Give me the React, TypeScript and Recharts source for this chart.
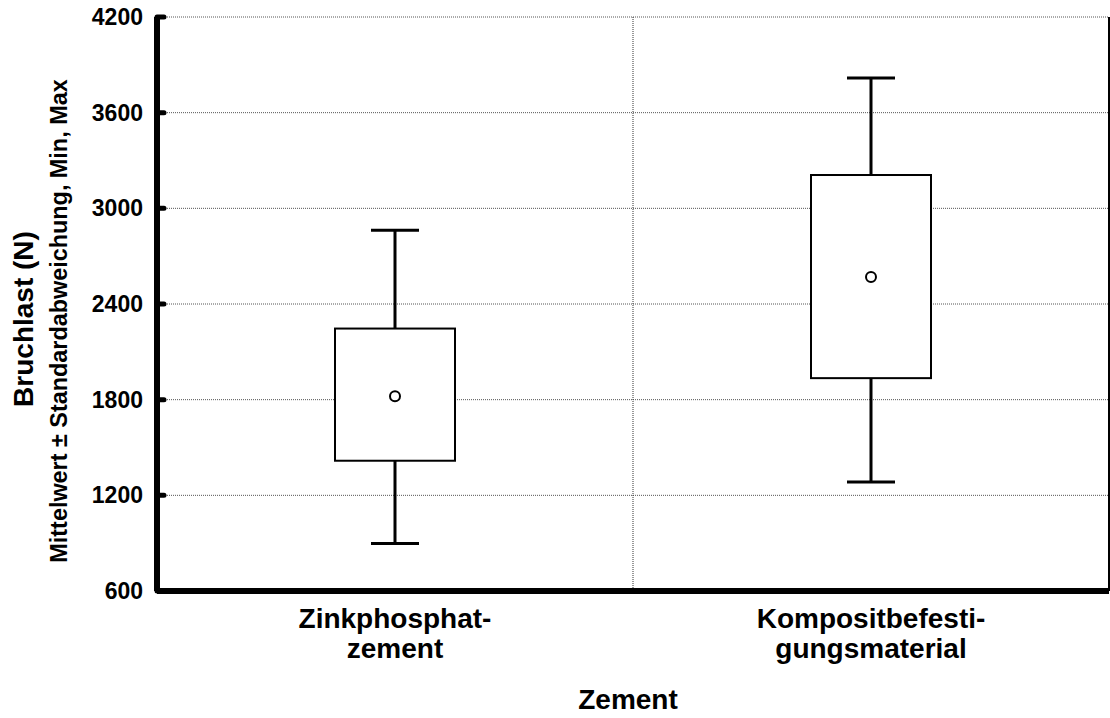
import React from 'react';
import {
  ComposedChart,
  Bar,
  XAxis,
  YAxis,
  CartesianGrid,
} from 'recharts';

const FONT = '"Liberation Sans", Arial, Helvetica, sans-serif';

// Zement groups
const categories = ['Zinkphosphatzement', 'Kompositbefestigungsmaterial'];
const labelLines = [
  ['Zinkphosphat-', 'zement'],
  ['Kompositbefesti-', 'gungsmaterial'],
];

// Bruchlast (N): mean, mean ± SD, min, max
const means = [1822, 2570];
const sdLow = [1417, 1935];
const sdHigh = [2246, 3209];
const mins = [898, 1283];
const maxs = [2862, 3817];

const yTicks = [600, 1200, 1800, 2400, 3000, 3600, 4200];

const data = categories.map((name, i) => ({
  name,
  range: [mins[i], maxs[i]],
  mean: means[i],
  lo: sdLow[i],
  hi: sdHigh[i],
  min: mins[i],
  max: maxs[i],
}));

const BoxShape = (props: any) => {
  const { x, y, width, height, payload } = props;
  const top = Math.min(y, y + height);
  const h = Math.abs(height);
  const py = (v: number) => top + ((payload.max - v) / (payload.max - payload.min)) * h;
  const cx = x + width / 2;
  const cap = width * 0.2;
  return (
    <g>
      <line x1={cx} x2={cx} y1={py(payload.max)} y2={py(payload.min)} stroke="#000" strokeWidth={3} />
      <line x1={cx - cap} x2={cx + cap} y1={py(payload.max)} y2={py(payload.max)} stroke="#000" strokeWidth={3} />
      <line x1={cx - cap} x2={cx + cap} y1={py(payload.min)} y2={py(payload.min)} stroke="#000" strokeWidth={3} />
      <rect
        x={x}
        y={py(payload.hi)}
        width={width}
        height={py(payload.lo) - py(payload.hi)}
        fill="#fff"
        stroke="#000"
        strokeWidth={2}
      />
      <circle cx={cx} cy={py(payload.mean)} r={5} fill="#fff" stroke="#000" strokeWidth={2} />
    </g>
  );
};

const CategoryTick = (props: any) => {
  const { x, y, payload } = props;
  const lines = labelLines[categories.indexOf(payload.value)] || [payload.value];
  return (
    <text x={x} y={y} textAnchor="middle" fontFamily={FONT} fontWeight="bold" fontSize={28} fill="#000">
      {lines.map((l: string, i: number) => (
        <tspan key={i} x={x} dy={i === 0 ? 37 : 30}>
          {l}
        </tspan>
      ))}
    </text>
  );
};

const YTitles = (props: any) => {
  const vb = props.viewBox || { x: 0, y: 17, width: 157, height: 574 };
  const cy = vb.y + vb.height / 2 + 15;
  return (
    <g fontFamily={FONT} fontWeight="bold" fill="#000">
      <text x={33} y={cy} textAnchor="middle" fontSize={28} transform={`rotate(-90, 33, ${cy})`}>
        Bruchlast (N)
      </text>
      <text x={67} y={cy + 2} textAnchor="middle" fontSize={23.4} transform={`rotate(-90, 67, ${cy + 2})`}>
        Mittelwert ± Standardabweichung, Min, Max
      </text>
    </g>
  );
};

const XTitle = (props: any) => {
  const vb = props.viewBox || { x: 157, y: 591, width: 952, height: 127 };
  return (
    <text
      x={vb.x + vb.width / 2 - 5}
      y={709}
      textAnchor="middle"
      fontFamily={FONT}
      fontWeight="bold"
      fontSize={28}
      fill="#000"
    >
      Zement
    </text>
  );
};

// boundary between the two category bands
const bandBoundary = ({ offset }: any) => [offset.left + offset.width / 2];

export default function App() {
  return (
    <div style={{ position: 'absolute', left: 0, top: 0, width: 1110, height: 718, background: '#fff' }}>
      <ComposedChart width={1110} height={718} data={data} margin={{ top: 17, right: 0, left: 0, bottom: 0 }}>
        <CartesianGrid vertical={false} stroke="#555" strokeDasharray="1 1" />
        <CartesianGrid
          horizontal={false}
          verticalCoordinatesGenerator={bandBoundary}
          stroke="#333"
          strokeDasharray="1 1"
        />
        <XAxis
          dataKey="name"
          type="category"
          height={127}
          axisLine={{ stroke: '#000', strokeWidth: 6 }}
          tickLine={false}
          tickSize={0}
          tickMargin={0}
          interval={0}
          tick={<CategoryTick />}
          label={<XTitle />}
        />
        <XAxis
          xAxisId="top"
          type="number"
          orientation="top"
          domain={[0, 2]}
          ticks={[1]}
          height={0}
          tick={false}
          axisLine={{ stroke: '#000', strokeWidth: 6 }}
          tickLine={{ stroke: '#000', strokeWidth: 5, strokeLinecap: 'round' }}
          tickSize={-6}
        />
        <YAxis
          type="number"
          domain={[600, 4200]}
          ticks={yTicks}
          interval={0}
          width={157}
          axisLine={{ stroke: '#000', strokeWidth: 6 }}
          tickLine={{ stroke: '#000', strokeWidth: 5, strokeLinecap: 'round' }}
          tickSize={-7}
          tickMargin={21}
          tick={{ fontFamily: FONT, fontWeight: 'bold', fontSize: 23, fill: '#000' }}
          label={<YTitles />}
        />
        <YAxis
          yAxisId="r"
          orientation="right"
          type="number"
          domain={[600, 4200]}
          ticks={yTicks}
          width={1}
          tick={false}
          axisLine={{ stroke: '#000', strokeWidth: 2 }}
          tickLine={{ stroke: '#000', strokeWidth: 5, strokeLinecap: 'round' }}
          tickSize={-4}
        />
        <Bar dataKey="range" barSize={120} shape={<BoxShape />} isAnimationActive={false} />
      </ComposedChart>
    </div>
  );
}
